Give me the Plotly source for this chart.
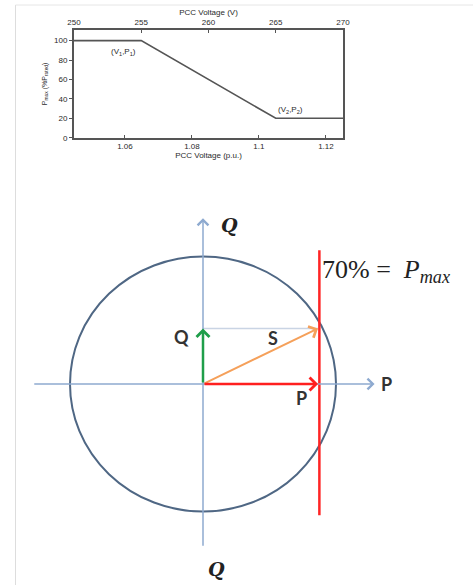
import plotly.graph_objects as go

# --- top chart: volt-watt curve ---
volt_v = [250, 255, 265, 270]
pmax_pct = [100, 100, 20, 20]
pu_range = [1.0448, 1.1251]
pu_ticks = [1.06, 1.08, 1.1, 1.12]
pu_tick_text = ['1.06', '1.08', '1.1', '1.12']
v_ticks = [250, 255, 260, 265, 270]
pct_ticks = [0, 20, 40, 60, 80, 100]
point_labels = ['(V<sub>1</sub>,P<sub>1</sub>)', '(V<sub>2</sub>,P<sub>2</sub>)']
point_label_v = [253.7, 266.1]
point_label_p = [88, 28.5]

# --- bottom diagram: PQ capability circle ---
s_radius = 1.0
p_value = 0.865
q_value = 0.435
pmax_line = 0.875
pmax_line_span = [-1.03, 1.05]
axis_p_span = [-1.28, 1.29]
axis_q_span = [-1.28, 1.30]

W, H = 473, 585
OX, OY = 203, 384      # diagram origin, pixels
SX, SY = 133, 127.5    # pixels per unit of S


def px(x):
    return x / W


def py(y):
    return 1 - y / H


frame = '#555555'
small = dict(family='Liberation Sans', size=8, color='#2a2a2a')

fig = go.Figure()
fig.add_trace(go.Scatter(x=volt_v, y=pmax_pct, mode='lines', xaxis='x2', yaxis='y',
                         line=dict(color='#555555', width=1.6), showlegend=False, hoverinfo='skip'))
# invisible trace so the p.u. axis is drawn
fig.add_trace(go.Scatter(x=pu_range, y=[0, 0], mode='lines', xaxis='x', yaxis='y',
                         line=dict(width=0), showlegend=False, hoverinfo='skip'))

fig.update_layout(
    width=W, height=H, margin=dict(l=0, r=0, t=0, b=0),
    paper_bgcolor='white', plot_bgcolor='rgba(0,0,0,0)', showlegend=False,
    xaxis=dict(domain=[px(74), px(343)], anchor='y', range=pu_range, automargin=False,
               tickvals=pu_ticks, ticktext=pu_tick_text, tickfont=small,
               showgrid=False, zeroline=False, showline=True, linecolor=frame, linewidth=2,
               ticks='inside', ticklen=3, tickcolor=frame,
               title=dict(text='PCC Voltage (p.u.)', font=small, standoff=0)),
    xaxis2=dict(overlaying='x', side='top', anchor='y', range=[250, 270], tickvals=v_ticks,
                automargin=False, tickfont=small, showgrid=False, zeroline=False, showline=True,
                linecolor=frame, linewidth=2, ticks='inside', ticklen=3, tickcolor=frame,
                title=dict(text='PCC Voltage (V)', font=small, standoff=1)),
    yaxis=dict(domain=[py(137.7), py(30)], anchor='x', range=[0, 111], tickvals=pct_ticks,
               automargin=False, tickfont=small, showgrid=False, zeroline=False, showline=True,
               mirror=True, linecolor=frame, linewidth=2, ticks='outside', ticklen=3, tickcolor=frame,
               title=dict(text='P<sub>max</sub> (%P<sub>rated</sub>)',
                          font=dict(family='Liberation Sans', size=7, color='#2a2a2a'), standoff=6)),
    xaxis3=dict(domain=[0, 1], anchor='y3', range=[-OX / SX, (W - OX) / SX], visible=False),
    yaxis3=dict(domain=[0, py(180)], anchor='x3', range=[(OY - H) / SY, (OY - 180) / SY], visible=False),
)

for txt, v, p in zip(point_labels, point_label_v, point_label_p):
    fig.add_annotation(x=v, y=p, xref='x2', yref='y', text=txt, showarrow=False, font=small)

# faint image borders
fig.add_shape(type='line', xref='paper', yref='paper', x0=px(15.5), x1=px(15.5), y0=0, y1=py(5),
              line=dict(color='#dddddd', width=1))
fig.add_shape(type='line', xref='paper', yref='paper', x0=px(15.5), x1=1, y0=py(5), y1=py(5),
              line=dict(color='#e6e6e6', width=1))

# circle and lines
fig.add_shape(type='circle', xref='x3', yref='y3', x0=-s_radius, x1=s_radius, y0=-s_radius, y1=s_radius,
              line=dict(color='#4f6784', width=2))
fig.add_shape(type='line', xref='x3', yref='y3', x0=0, x1=p_value, y0=q_value, y1=q_value,
              line=dict(color='#c9d4e4', width=1.5))
fig.add_shape(type='line', xref='x3', yref='y3', x0=pmax_line, x1=pmax_line,
              y0=pmax_line_span[0], y1=pmax_line_span[1], line=dict(color='#ff2424', width=2.5))


def arrow(x0, y0, x1, y1, color, width, size):
    fig.add_annotation(x=x1, y=y1, ax=x0, ay=y0, xref='x3', yref='y3', axref='x3', ayref='y3',
                       text='', showarrow=True, arrowhead=4, arrowsize=size, arrowwidth=width,
                       arrowcolor=color)


arrow(axis_p_span[0], 0, axis_p_span[1], 0, '#8eaad0', 1.5, 1.4)
arrow(0, axis_q_span[0], 0, axis_q_span[1], '#8eaad0', 1.5, 1.4)
arrow(0, 0, p_value, q_value, '#f5a05a', 2, 1.2)
arrow(0, 0, 0, q_value, '#1f9e4a', 2.5, 1.0)
arrow(0, 0, p_value, 0, '#ff1f1f', 2.5, 1.0)

label_font = dict(family='Lato', size=18, color='#333333')
for txt, x, y in [('<b>Q</b>', -0.16, 0.37), ('<b>S</b>', 0.53, 0.36), ('<b>P</b>', 0.74, -0.11),
                  ('<b>P</b>', 1.38, 0.0)]:
    fig.add_annotation(x=x, y=y, xref='x3', yref='y3', text=txt, showarrow=False, font=label_font)

serif = dict(family='DejaVu Serif', size=19, color='#222222')
fig.add_annotation(x=0.20, y=1.25, xref='x3', yref='y3', text='<b><i>Q</i></b>', showarrow=False, font=serif)
fig.add_annotation(x=0.10, y=-1.45, xref='x3', yref='y3', text='<b><i>Q</i></b>', showarrow=False, font=serif)
fig.add_annotation(x=0.877, y=0.89, xref='x3', yref='y3', xanchor='left',
                   text='70% =&nbsp;&nbsp;<i>P</i><sub><i>max</i></sub>', showarrow=False,
                   font=dict(family='Liberation Serif', size=26, color='#222222'))

# drop the default 8px page margin so the figure fills the window exactly
fig.write_html('out.html', config={'displayModeBar': False},
               post_script="document.body.style.margin='0';"
                           "document.body.style.overflow='hidden';")
